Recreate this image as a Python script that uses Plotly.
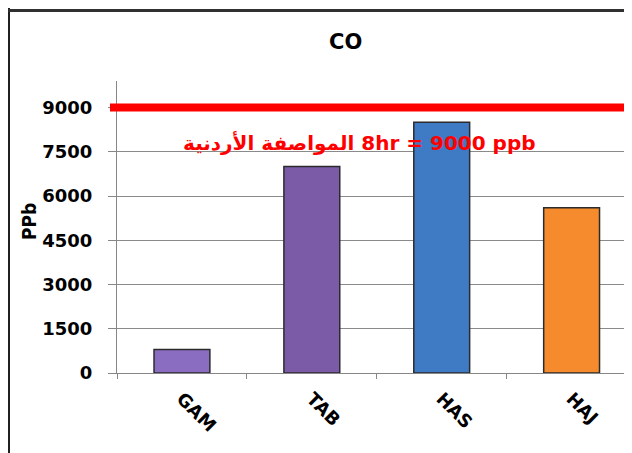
import plotly.graph_objects as go

# ---- data ----
categories = ["GAM", "TAB", "HAS", "HAJ"]
co_values = [800, 7000, 8500, 5600]
y_tick_values = [0, 1500, 3000, 4500, 6000, 7500, 9000]
standard_value = 9000
standard_label = "المواصفة الأردنية\u200e 8hr = 9000 ppb"
chart_title = "CO"
y_title = "PPb"

# ---- styles / layout (page pixel coordinates; figure starts 8px in) ----
bar_colors = ["#8a6cc0", "#7b5ba8", "#3f7ac4", "#f58b2c"]
OFF = 8
PAGE_W, PAGE_H = 632, 453
W, H = PAGE_W - OFF, PAGE_H - OFF
PLOT_L, PLOT_R, PLOT_T, PLOT_B = 117, 632, 81, 373
ML, MR = PLOT_L - OFF, PAGE_W - PLOT_R
MT, MB = PLOT_T - OFF, PAGE_H - PLOT_B
PW, PH = PLOT_R - PLOT_L, PLOT_B - PLOT_T


def px_x(p):
    return (p - PLOT_L) / PW


def px_y(p):
    return (PLOT_B - p) / PH


fig = go.Figure()
fig.add_trace(go.Bar(
    x=categories, y=co_values,
    marker=dict(color=bar_colors, line=dict(color="#2b2b2b", width=1.5)),
    width=0.43, showlegend=False,
))

fig.update_layout(
    width=W, height=H,
    margin=dict(l=ML, r=MR, t=MT, b=MB),
    paper_bgcolor="white", plot_bgcolor="white",
    font=dict(family="DejaVu Sans", color="black"),
    xaxis=dict(
        range=[-0.5, 3.465], showline=True, linecolor="#868686", linewidth=1,
        ticks="outside", ticklen=5, tickcolor="#868686", tickson="boundaries",
        tickangle=45, tickfont=dict(size=18, family="DejaVu Sans", weight="bold"),
        ticklabelstandoff=7, showgrid=False,
    ),
    yaxis=dict(
        range=[0, 9900], tickvals=y_tick_values, showline=True, linecolor="#868686",
        linewidth=1, ticks="outside", ticklen=8, tickcolor="#868686",
        showgrid=True, gridcolor="#8a8a8a", gridwidth=1, zeroline=False,
        tickfont=dict(size=18, family="DejaVu Sans", weight="bold"),
        ticklabelstandoff=12,
    ),
    shapes=[
        dict(type="line", xref="paper", yref="y", x0=px_x(110), x1=1.0,
             y0=standard_value, y1=standard_value,
             line=dict(color="#ff0000", width=8), layer="above"),
        dict(type="line", xref="paper", yref="paper", x0=px_x(OFF + 1), x1=px_x(OFF + 1),
             y0=px_y(PAGE_H), y1=px_y(OFF), line=dict(color="#202020", width=2)),
        dict(type="line", xref="paper", yref="paper", x0=px_x(OFF), x1=1.0,
             y0=px_y(10.5), y1=px_y(10.5), line=dict(color="#303030", width=3)),
    ],
    annotations=[
        dict(text=chart_title, xref="paper", yref="paper", x=px_x(345.5), y=px_y(42.5),
             showarrow=False, xanchor="center", yanchor="middle",
             font=dict(size=21, family="DejaVu Sans", weight="bold")),
        dict(text=y_title, xref="paper", yref="paper", x=px_x(29), y=px_y(222),
             showarrow=False, textangle=-90, xanchor="center", yanchor="middle",
             font=dict(size=19, family="Liberation Sans Narrow, DejaVu Sans Condensed",
                       weight="bold")),
        dict(text=standard_label, xref="paper", yref="paper", x=px_x(359), y=px_y(142),
             showarrow=False, xanchor="center", yanchor="middle",
             font=dict(size=20, family="DejaVu Sans", weight="bold", color="#ff0000")),
    ],
)

fig.write_html("out.html")
